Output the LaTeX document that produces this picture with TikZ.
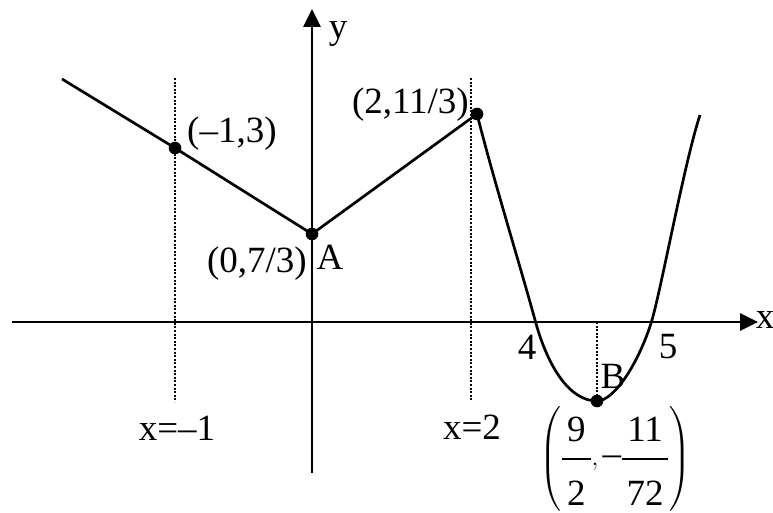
\documentclass[tikz,border=0pt]{standalone}
\usepackage{amsmath}
\usepackage{fontspec}
\setmainfont{Liberation Serif}
\usetikzlibrary{arrows.meta}
\newcommand{\bigfr}[2]{\genfrac{}{}{1.6pt}{0}{\kern5pt\mbox{#1}\kern5pt\rule[-12pt]{0pt}{12pt}}{\rule{0pt}{41pt}\mbox{#2}}}

\begin{document}
\begin{tikzpicture}[x=1pt,y=-1pt,
  lbl/.style={font=\fontsize{37}{42}\selectfont,inner sep=0pt},
  curve/.style={line width=2.7pt,line join=round},
  axis/.style={line width=2.7pt,-{Triangle[length=18pt,width=17pt]}},
  guide/.style={line width=2.2pt,dash pattern=on 2pt off 1.6pt}]
\useasboundingbox (0,0) rectangle (773,513);

% axes
\coordinate (xs) at (12,322);
\coordinate (xe) at (758,322);
\coordinate (ys) at (312,473);
\coordinate (ye) at (312,9);
\draw[axis] (xs) -- (xe);
\draw[axis] (ys) -- (ye);
\node[lbl] (xlab) at (765,320) {x};
\node[lbl] (ylab) at (338,34) {y};

% points of the graph
\coordinate (L) at (62,79);
\coordinate (P) at (175,148);
\coordinate (A) at (312,234);
\coordinate (Q) at (477,114);
\coordinate (r4) at (535,320);
\coordinate (B) at (597,401);
\coordinate (r5) at (652,320);
\coordinate (R) at (700,115);

% guide lines
\coordinate (g1t) at (175,78);
\coordinate (g1b) at (175,402);
\coordinate (g2t) at (471,78);
\coordinate (g2b) at (471,400);
\coordinate (g3t) at (597,322);
\draw[guide] (g1t) -- (g1b);
\draw[guide] (g2t) -- (g2b);
\draw[guide] (g3t) -- (B);

% graph
\draw[curve] (L) -- (P) -- (A) -- (Q);
\draw[curve] (Q) .. controls (495,185) and (520,265) .. (r4)
  .. controls (548,368) and (570,401) .. (B)
  .. controls (615,401) and (640,360) .. (r5)
  .. controls (662,285) and (685,160) .. (R);
\foreach \p in {P,A,Q,B}
  \fill (\p) circle (6.3pt);

% labels
\node[lbl,anchor=west] (lP) at (187,134) {(–1,3)};
\node[lbl,anchor=east] (lQ) at (469,105) {(2,11/3)};
\node[lbl,anchor=east] (lA) at (307,264) {(0,7/3)};
\node[lbl] (nA) at (330,257) {A};
\node[lbl] (n4) at (527,347) {4};
\node[lbl] (n5) at (668,347) {5};
\node[lbl] (nB) at (613,376) {B};
\node[lbl] (lx1) at (177,428) {x=–1};
\node[lbl] (lx2) at (472,427) {x=2};
\node[lbl] (lB) at (615,459)
  {$\displaystyle\left(\rule[-42pt]{0pt}{100pt}\bigfr{9}{2},\mbox{–}\bigfr{11}{72}\right)$};
\end{tikzpicture}
\end{document}
